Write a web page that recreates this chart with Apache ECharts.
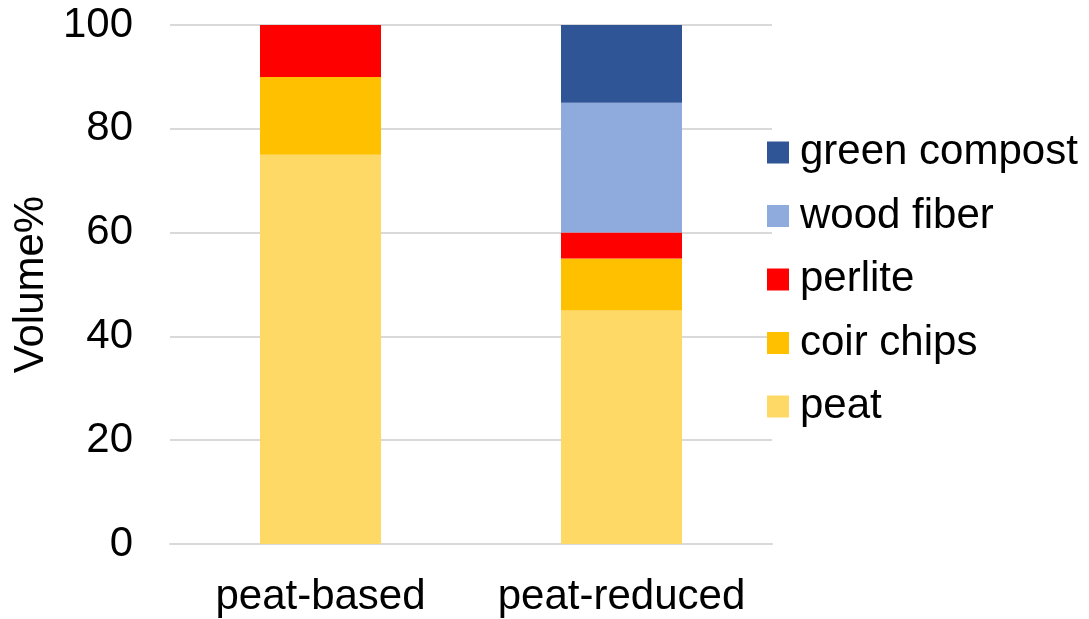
<!DOCTYPE html>
<html>
<head>
<meta charset="utf-8">
<script src="https://cdn.jsdelivr.net/npm/echarts@6/dist/echarts.min.js"></script>
<style>
  html, body { margin: 0; padding: 0; background: #fff; }
  #chart { width: 1089px; height: 619px; }
</style>
</head>
<body>
<div id="chart"></div>
<script>
// Substrate mixes and their constituents (volume %)
const categories = ['peat-based', 'peat-reduced'];
const peat = [75, 45];
const coirChips = [15, 10];
const perlite = [10, 5];
const woodFiber = [0, 25];
const greenCompost = [0, 15];
const yTicks = [0, 20, 40, 60, 80, 100];

const font = '"Liberation Sans", Arial, sans-serif';
const fs = 42;
const seriesDefs = [
  { name: 'peat', data: peat, color: '#FFD966' },
  { name: 'coir chips', data: coirChips, color: '#FFC000' },
  { name: 'perlite', data: perlite, color: '#FF0000' },
  { name: 'wood fiber', data: woodFiber, color: '#8FAADC' },
  { name: 'green compost', data: greenCompost, color: '#2F5597' }
];

const chart = echarts.init(document.getElementById('chart'), null, { renderer: 'canvas' });
chart.setOption({
  animation: false,
  textStyle: { fontFamily: font },
  grid: { left: 170, right: 317, top: 25, bottom: 75 },
  legend: {
    orient: 'vertical',
    left: 767,
    top: 131.5,
    padding: 0,
    itemWidth: 22,
    itemHeight: 22,
    itemGap: 21.5,
    icon: 'rect',
    data: seriesDefs.map(s => s.name).reverse(),
    textStyle: { fontSize: fs, color: '#000', fontFamily: font, padding: [0, 0, 0, 6] }
  },
  xAxis: {
    type: 'category',
    data: categories,
    axisLine: { lineStyle: { color: '#d9d9d9', width: 2 } },
    axisTick: { show: false },
    axisLabel: { fontSize: fs, color: '#000', margin: 32, interval: 0, fontFamily: font }
  },
  yAxis: {
    type: 'value',
    min: yTicks[0],
    max: yTicks[yTicks.length - 1],
    interval: 20,
    name: 'Volume%',
    nameLocation: 'middle',
    nameGap: 118,
    nameTextStyle: { fontSize: fs, color: '#000', fontFamily: font },
    axisLine: { show: false },
    axisTick: { show: false },
    splitLine: { lineStyle: { color: '#d9d9d9', width: 2 } },
    axisLabel: { fontSize: fs, color: '#000', margin: 37, fontFamily: font }
  },
  series: seriesDefs.map(s => ({
    name: s.name,
    type: 'bar',
    stack: 'mix',
    barWidth: 121,
    data: s.data,
    itemStyle: { color: s.color }
  }))
});
</script>
</body>
</html>
